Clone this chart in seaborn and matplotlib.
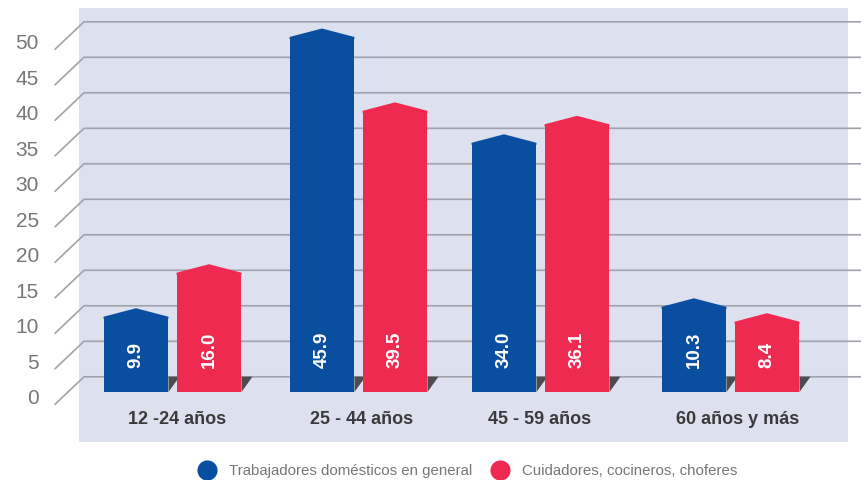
import matplotlib
matplotlib.use("Agg")
import matplotlib.pyplot as plt
from matplotlib.lines import Line2D
from matplotlib.patches import Polygon, Rectangle
import pandas as pd
import seaborn as sns

# datos
grupos = ["12 -24 años", "25 - 44 años", "45 - 59 años", "60 años y más"]
serie_azul = "Trabajadores domésticos en general"
serie_roja = "Cuidadores, cocineros, choferes"
# lo que dice el rotulo de cada barra
rotulos_azul = [9.9, 45.9, 34.0, 10.3]
rotulos_roja = [16.0, 39.5, 36.1, 8.4]
# altura dibujada en la escala (no coincide del todo con el rotulo en el original)
altura_azul = [10.6, 50.0, 35.1, 12.0]
altura_roja = [16.8, 39.6, 37.7, 9.9]
marcas_y = [0, 5, 10, 15, 20, 25, 30, 35, 40, 45, 50]

AZUL = "#0a4f9f"
ROJO = "#ee2a50"
FONDO = "#dde1ef"
GRIS = "#a0a2ac"
SOMBRA = "#4c4c4e"

# escala: un panel en pixeles de la imagen
PX_POR_UNIDAD = 7.1
BASE_PX = 392
PX_POR_GRUPO = 186
CENTRO_0_PX = 172.5
desvio_grupo = [0, 0, -4, 0]
desvio_texto = [4.5, 3, -1, 7]


def x_d(px):
    return (px - CENTRO_0_PX) / PX_POR_GRUPO


def y_d(px):
    return (BASE_PX - px) / PX_POR_UNIDAD


sns.set_theme(style="white")
plt.rcParams["font.family"] = ["Liberation Sans", "DejaVu Sans"]

df = pd.DataFrame({
    "grupo": grupos * 2,
    "serie": [serie_azul] * 4 + [serie_roja] * 4,
    "altura": altura_azul + altura_roja,
})

fig = plt.figure(figsize=(8.61, 4.8), dpi=100)
ax = fig.add_axes([0, 0, 1, 1])

sns.barplot(data=df, x="grupo", y="altura", hue="serie", order=grupos,
            hue_order=[serie_azul, serie_roja],
            palette=[AZUL, ROJO], width=0.785, gap=0.11, errorbar=None,
            legend=False, saturation=1, linewidth=0, zorder=4, ax=ax)

ax.set_xlim(x_d(0), x_d(861))
ax.set_ylim(y_d(480), y_d(0))
ax.set_axis_off()

# panel de fondo
ax.add_patch(Rectangle((x_d(79), y_d(442)), x_d(848) - x_d(79), y_d(8) - y_d(442),
                       facecolor=FONDO, edgecolor="none", zorder=0))

# lineas de la grilla con su tramo inclinado
for v in marcas_y:
    atras = 376.8 - v * PX_POR_UNIDAD
    ax.plot([x_d(55), x_d(84), x_d(861)], [y_d(atras + 27.5), y_d(atras), y_d(atras)],
            color=GRIS, lw=1.2, zorder=1, solid_joinstyle="miter")
    ax.text(x_d(39), y_d(atras + 22), str(v), ha="right", va="center",
            fontsize=15, color="#77777a", zorder=5)

# barras: punta, sombra y rotulo a partir de lo que dibujo seaborn
rotulos = rotulos_azul + rotulos_roja
barras = list(ax.patches)[:8]
for i, (barra, rotulo) in enumerate(zip(barras, rotulos)):
    g = i % 4
    barra.set_x(barra.get_x() + desvio_grupo[g] / PX_POR_GRUPO)
    izq = barra.get_x()
    der = izq + barra.get_width()
    alto = barra.get_height()
    medio = (izq + der) / 2
    color = barra.get_facecolor()
    # la punta baja un poco dentro de la barra para que no quede una raya
    solape = 2 / PX_POR_UNIDAD
    ax.add_patch(Polygon([(izq, alto - solape), (izq, alto), (medio, alto + 8.5 / PX_POR_UNIDAD),
                          (der, alto), (der, alto - solape)],
                         closed=True, facecolor=color, edgecolor="none", zorder=4))
    ax.add_patch(Polygon([(der, 0), (der + 11 / PX_POR_GRUPO, 15.3 / PX_POR_UNIDAD),
                          (der, 15.3 / PX_POR_UNIDAD)],
                         closed=True, facecolor=SOMBRA, edgecolor="none", zorder=3))
    ax.text(medio, y_d(367.5), f"{rotulo:.1f}", rotation=90, ha="center", va="bottom",
            color="white", fontsize=13.5, fontweight="bold", zorder=5)

for g, nombre in enumerate(grupos):
    ax.text(g + (desvio_grupo[g] + desvio_texto[g]) / PX_POR_GRUPO, y_d(420), nombre,
            ha="center", va="center", fontsize=13, fontweight="bold", color="#3a3a3c", zorder=5)

# leyenda abajo
marcadores = [Line2D([], [], marker="o", ls="none", ms=14.5, mfc=c, mec="none") for c in (AZUL, ROJO)]
ax.legend(marcadores, [serie_azul, serie_roja], ncols=2, frameon=False,
          loc="center left", bbox_to_anchor=(192 / 861, 1 - 471 / 480),
          fontsize=10.8, labelcolor="#77777a", handletextpad=0.45, columnspacing=0.85,
          borderpad=0, borderaxespad=0)

fig.savefig("out.png", dpi=100)
